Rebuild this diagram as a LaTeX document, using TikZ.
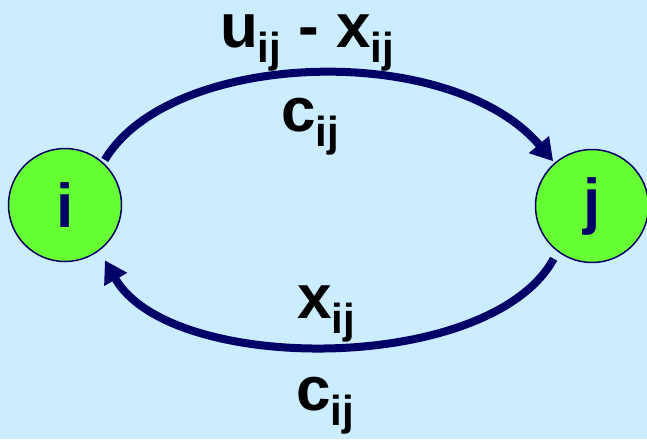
\documentclass[tikz,border=0pt]{standalone}
\usepackage{fontspec}
\setmainfont{Liberation Sans}
\usetikzlibrary{arrows.meta}
\definecolor{bgblue}{RGB}{204,236,255}
\definecolor{navy}{RGB}{0,0,102}
\definecolor{nodegreen}{RGB}{102,255,51}
\newcommand\sublab[2]{#1\raisebox{-15pt}{\fontsize{42}{42}\selectfont #2}}
\tikzset{
  vertex/.style={circle, draw=navy, line width=1.5pt, fill=nodegreen, minimum size=113pt, inner sep=0pt,
    text=navy, font=\fontsize{62}{62}\selectfont\bfseries},
  arc/.style={draw=navy, line width=8pt, -{Triangle[length=22pt,width=25pt]}},
  lab/.style={anchor=base west, inner sep=0pt, outer sep=0pt, text=black, text height=36pt, text depth=20pt,
    font=\fontsize{62}{62}\selectfont\bfseries}
}
\begin{document}
\begin{tikzpicture}[x=1pt,y=-1pt]
\fill[bgblue] (0,0) rectangle (647,439);
\useasboundingbox (0,0) rectangle (647,439);
\node[vertex] (i) at (65,205) {i};
\node[vertex] (j) at (592,206) {j};
\draw[arc, shorten <=3pt, shorten >=2pt] (i.48) .. controls (170,50) and (450,40) .. (j.131.6);
\draw[arc, shorten <=8pt, shorten >=11pt] (j.233) .. controls (490,375) and (170,375) .. (i.307);
\node[lab] (t1) at (220,47) {\sublab{u}{ij} - \sublab{x}{ij}};
\node[lab] (t2) at (281,131) {\sublab{c}{ij}};
\node[lab] (t3) at (297,318) {\sublab{x}{ij}};
\node[lab, text depth=25pt] (t4) at (296,410) {\sublab{c}{ij}};
\end{tikzpicture}
\end{document}
